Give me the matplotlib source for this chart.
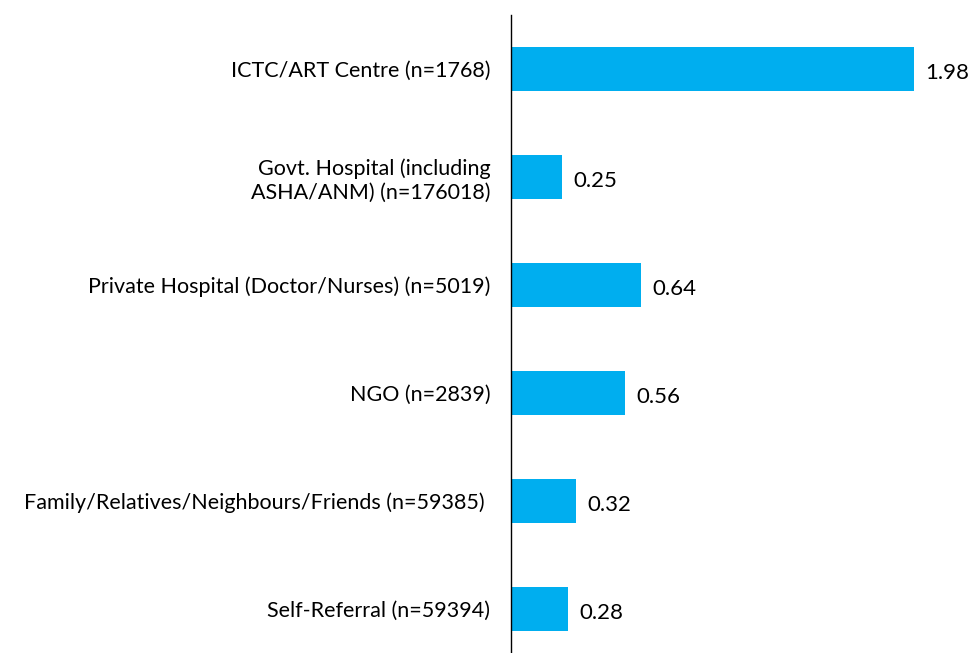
import matplotlib
matplotlib.use("Agg")
import matplotlib.pyplot as plt

categories = [
    "ICTC/ART Centre (n=1768)",
    "Govt. Hospital (including\nASHA/ANM) (n=176018)",
    "Private Hospital (Doctor/Nurses) (n=5019)",
    "NGO (n=2839)",
    "Family/Relatives/Neighbours/Friends (n=59385) ",
    "Self-Referral (n=59394)",
]
values = [1.98, 0.25, 0.64, 0.56, 0.32, 0.28]
value_labels = ["1.98", "0.25", "0.64", "0.56", "0.32", "0.28"]

plt.rcParams['font.family'] = ['Lato', 'DejaVu Sans']

fig = plt.figure(figsize=(9.72, 6.53), dpi=100)
ax = fig.add_axes([511/972, 0, 1 - 511/972, 1 - 15/653])

pos = list(range(len(categories)))
ax.barh(pos, values, height=0.41, color="#00AEEF")
ax.set_ylim(5.41, -0.5)
ax.set_xlim(0, 2.265)

for p, v, t in zip(pos, values, value_labels):
    ax.text(v + 0.055, p + 0.04, t, va="center", ha="left", fontsize=16, color="black")

ax.set_yticks(pos)
ax.set_yticklabels(categories, fontsize=15.5, ha="right", linespacing=1.25)
ax.tick_params(axis="y", length=0, pad=15)
ax.set_xticks([])
for s in ["top", "right", "bottom"]:
    ax.spines[s].set_visible(False)
ax.spines["left"].set_linewidth(1.0)
ax.patch.set_alpha(0)

fig.savefig("out.png", dpi=100)
